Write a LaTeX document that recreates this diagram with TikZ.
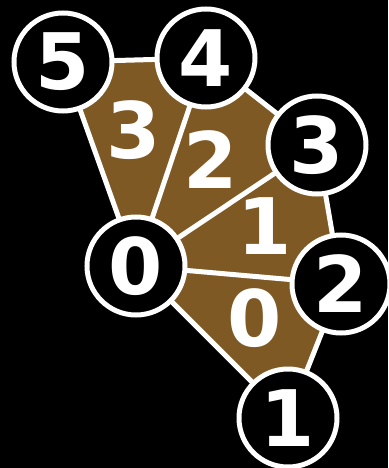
\documentclass[tikz,border=0pt]{standalone}
\usepackage{fontspec}
\setmainfont{DejaVu Sans}
\usetikzlibrary{backgrounds}
\definecolor{facebrown}{RGB}{127,89,36}
\tikzset{
  vert/.style={circle, draw=white, fill=black, line width=5pt, minimum size=98pt, inner sep=0pt,
    text=white, font=\bfseries\fontsize{78}{78}\selectfont},
  facelbl/.style={text=white, inner sep=0pt, font=\bfseries\fontsize{78}{78}\selectfont},
  edge/.style={draw=white, line width=5pt, line join=round}
}
\begin{document}
\begin{tikzpicture}[x=1pt,y=-1pt]
\useasboundingbox (0,0) rectangle (388,468);
\node[vert] (n5) at (63,62) {5};
\node[vert] (n4) at (206,58) {4};
\node[vert] (n3) at (317,145) {3};
\node[vert] (n2) at (341,284) {2};
\node[vert] (n1) at (288,418) {1};
\node[vert] (n0) at (136,266) {0};
\begin{scope}[on background layer]
  \fill[black] (0,0) rectangle (388,468);
  \fill[facebrown] (n5.center) -- (n4.center) -- (n3.center) -- (n2.center) -- (n1.center) -- (n0.center) -- cycle;
  \draw[edge] (n5.center) -- (n4.center) -- (n3.center) -- (n2.center) -- (n1.center) -- (n0.center) -- cycle;
  \draw[edge] (n0.center) -- (n4.center);
  \draw[edge] (n0.center) -- (n3.center);
  \draw[edge] (n0.center) -- (n2.center);
\end{scope}
\node[facelbl] (f3) at (134,130) {3};
\node[facelbl] (f2) at (211,160) {2};
\node[facelbl] (f1) at (265,226) {1};
\node[facelbl] (f0) at (255,318) {0};
\end{tikzpicture}
\end{document}
